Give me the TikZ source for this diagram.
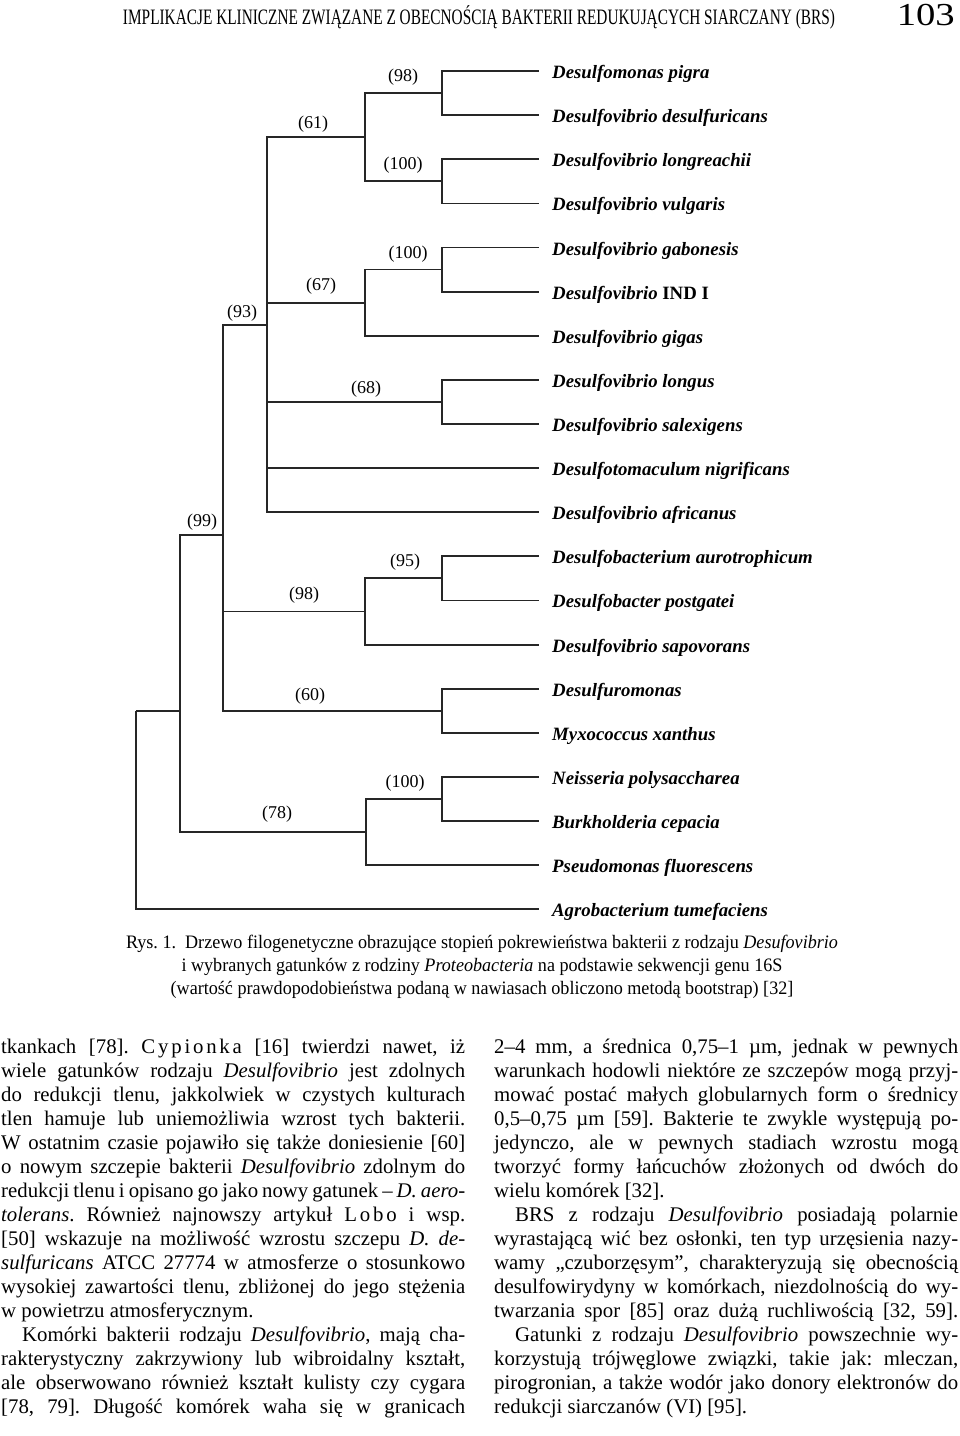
\documentclass[tikz,border=0pt]{standalone}
\usepackage{fontspec}
\setmainfont{Liberation Serif}
\usepackage{graphicx}
\frenchspacing
\newsavebox\fitbox
\newcommand\fitto[2]{\sbox\fitbox{#2}\pgfmathsetmacro\fitk{(#1)/(\the\wd\fitbox)}\global\let\lastk\fitk\scalebox{\fitk}[1]{\usebox\fitbox}}
\newlength\colw \setlength\colw{464pt}
\newcommand\jl[1]{\hbox to \colw{#1}}
\newcommand\il[1]{\hbox to \colw{\hskip21pt #1}}
\def\ls#1{\lsi#1\relax}
\def\lsi#1#2{#1\ifx#2\relax\else\kern2.8pt\expandafter\lsi\expandafter#2\fi}
\newcommand\leaffont{\fontsize{18.8}{22}\selectfont\bfseries\itshape}
\newcommand\bsfont{\fontsize{18}{22}\selectfont}
\newcommand\bodyfont{\fontsize{20.8}{24}\selectfont\spaceskip=0.25em plus 0.35em minus 0.12em\relax}
\newcommand\capfont{\fontsize{19}{23}\selectfont}
\tikzset{
  br/.style={line width=1.8pt, draw=black!85},
  leaf/.style={anchor=west, inner xsep=13pt, inner ysep=0pt, text height=15pt, text depth=0pt, font=\leaffont},
  bs/.style={inner sep=0pt, font=\bsfont},
  body/.style={anchor=base west, inner sep=0pt, font=\bodyfont},
  capl/.style={anchor=base, inner sep=0pt},
}
\begin{document}
\begin{tikzpicture}[x=1pt,y=-1pt]
\useasboundingbox (0,0) rectangle (960,1436);
% header
\node[anchor=base, inner sep=0pt] (hd) at (479,24) {\fitto{712pt}{\fontsize{22}{26}\selectfont IMPLIKACJE KLINICZNE ZWIĄZANE Z OBECNOŚCIĄ BAKTERII REDUKUJĄCYCH SIARCZANY (BRS)}};
\node[anchor=base east, inner sep=0pt] (pg) at (955,25) {\fitto{58pt}{\fontsize{32}{36}\selectfont 103}};
% leaves
\node[leaf] (L0) at (539,71.0) {Desulfomonas pigra};
\node[leaf] (L1) at (539,115.1) {Desulfovibrio desulfuricans};
\node[leaf] (L2) at (539,159.2) {Desulfovibrio longreachii};
\node[leaf] (L3) at (539,203.4) {Desulfovibrio vulgaris};
\node[leaf] (L4) at (539,247.5) {Desulfovibrio gabonesis};
\node[leaf] (L5) at (539,291.6) {Desulfovibrio \upshape IND I};
\node[leaf] (L6) at (539,335.7) {Desulfovibrio gigas};
\node[leaf] (L7) at (539,379.8) {Desulfovibrio longus};
\node[leaf] (L8) at (539,424.0) {Desulfovibrio salexigens};
\node[leaf] (L9) at (539,468.1) {Desulfotomaculum nigrificans};
\node[leaf] (L10) at (539,512.2) {Desulfovibrio africanus};
\node[leaf] (L11) at (539,556.3) {Desulfobacterium aurotrophicum};
\node[leaf] (L12) at (539,600.4) {Desulfobacter postgatei};
\node[leaf] (L13) at (539,644.6) {Desulfovibrio sapovorans};
\node[leaf] (L14) at (539,688.7) {Desulfuromonas};
\node[leaf] (L15) at (539,732.8) {Myxococcus xanthus};
\node[leaf] (L16) at (539,776.9) {Neisseria polysaccharea};
\node[leaf] (L17) at (539,821.0) {Burkholderia cepacia};
\node[leaf] (L18) at (539,865.2) {Pseudomonas fluorescens};
\node[leaf] (L19) at (539,909.3) {Agrobacterium tumefaciens};
% internal nodes
\coordinate (A) at (442,93.05);
\coordinate (B) at (442,181.3);
\coordinate (C) at (365,137.2);
\coordinate (D) at (442,269.55);
\coordinate (E) at (365,302.6);
\coordinate (F) at (442,401.9);
\coordinate (G) at (267,325);
\coordinate (H) at (442,578.35);
\coordinate (I) at (365,611.5);
\coordinate (J) at (442,710.75);
\coordinate (K) at (223,535);
\coordinate (P) at (442,798.95);
\coordinate (M) at (366,832.1);
\coordinate (N) at (180,710.7);
\coordinate (R) at (136,710.7);
% branches
\draw[br] (A) |- (L0.west);  \draw[br] (A) |- (L1.west);
\draw[br] (B) |- (L2.west);  \draw[br] (B) |- (L3.west);
\draw[br] (C) |- (A);        \draw[br] (C) |- (B);
\draw[br] (D) |- (L4.west);  \draw[br] (D) |- (L5.west);
\draw[br] (E) |- (D);        \draw[br] (E) |- (L6.west);
\draw[br] (F) |- (L7.west);  \draw[br] (F) |- (L8.west);
\draw[br] (G) |- (C);  \draw[br] (G) |- (E);  \draw[br] (G) |- (F);
\draw[br] (G) |- (L9.west);  \draw[br] (G) |- (L10.west);
\draw[br] (H) |- (L11.west); \draw[br] (H) |- (L12.west);
\draw[br] (I) |- (H);        \draw[br] (I) |- (L13.west);
\draw[br] (J) |- (L14.west); \draw[br] (J) |- (L15.west);
\draw[br] (K) |- (G);  \draw[br] (K) |- (I);  \draw[br] (K) |- (J);
\draw[br] (P) |- (L16.west); \draw[br] (P) |- (L17.west);
\draw[br] (M) |- (P);        \draw[br] (M) |- (L18.west);
\draw[br] (N) |- (K);        \draw[br] (N) |- (M);
\draw[br] (R) |- (N);        \draw[br] (R) |- (L19.west);
% bootstrap values
\node[bs] (bA) at (403,77) {(98)};
\node[bs] (bC) at (313,124) {(61)};
\node[bs] (bB) at (403,165) {(100)};
\node[bs] (bD) at (408,254) {(100)};
\node[bs] (bE) at (321,286) {(67)};
\node[bs] (bG) at (242,313) {(93)};
\node[bs] (bF) at (366,389) {(68)};
\node[bs] (bK) at (202,522) {(99)};
\node[bs] (bH) at (405,562) {(95)};
\node[bs] (bI) at (304,595) {(98)};
\node[bs] (bJ) at (310,696) {(60)};
\node[bs] (bP) at (405,783) {(100)};
\node[bs] (bM) at (277,814) {(78)};
% caption
\node[capl] (c1) at (482,948) {\fitto{712pt}{\capfont Rys. 1.\hspace{0.5em}Drzewo filogenetyczne obrazujące stopień pokrewieństwa bakterii z rodzaju \textit{Desufovibrio}}};
\node[capl] (c2) at (482,971) {\scalebox{\lastk}[1]{\capfont i wybranych gatunków z rodziny \textit{Proteobacteria} na podstawie sekwencji genu 16S}};
\node[capl] (c3) at (482,994) {\scalebox{\lastk}[1]{\capfont (wartość prawdopodobieństwa podaną w nawiasach obliczono metodą bootstrap) [32]}};
% left column
\node[body] (l0) at (1,1053) {\jl{tkankach [78]. \ls{Cypionka} [16] twierdzi nawet, iż}};
\node[body] (l1) at (1,1077) {\jl{wiele gatunków rodzaju \textit{Desulfovibrio} jest zdolnych}};
\node[body] (l2) at (1,1101) {\jl{do redukcji tlenu, jakkolwiek w czystych kulturach}};
\node[body] (l3) at (1,1125) {\jl{tlen hamuje lub uniemożliwia wzrost tych bakterii.}};
\node[body] (l4) at (1,1149) {\jl{W ostatnim czasie pojawiło się także doniesienie [60]}};
\node[body] (l5) at (1,1173) {\jl{o nowym szczepie bakterii \textit{Desulfovibrio} zdolnym do}};
\node[body] (l6) at (1,1197) {\jl{redukcji tlenu i opisano go jako nowy gatunek – \textit{D. aero-}}};
\node[body] (l7) at (1,1221) {\jl{\textit{tolerans}. Również najnowszy artykuł \ls{Lobo} i wsp.}};
\node[body] (l8) at (1,1245) {\jl{[50] wskazuje na możliwość wzrostu szczepu \textit{D. de-}}};
\node[body] (l9) at (1,1269) {\jl{\textit{sulfuricans} ATCC 27774 w atmosferze o stosunkowo}};
\node[body] (l10) at (1,1293) {\jl{wysokiej zawartości tlenu, zbliżonej do jego stężenia}};
\node[body] (l11) at (1,1317) {\hbox{w powietrzu atmosferycznym.}};
\node[body] (l12) at (1,1341) {\il{Komórki bakterii rodzaju \textit{Desulfovibrio}, mają cha-}};
\node[body] (l13) at (1,1365) {\jl{rakterystyczny zakrzywiony lub wibroidalny kształt,}};
\node[body] (l14) at (1,1389) {\jl{ale obserwowano również kształt kulisty czy cygara}};
\node[body] (l15) at (1,1413) {\jl{[78, 79]. Długość komórek waha się w granicach}};
% right column
\node[body] (r0) at (494,1053) {\jl{2–4 mm, a średnica 0,75–1 µm, jednak w pewnych}};
\node[body] (r1) at (494,1077) {\jl{warunkach hodowli niektóre ze szczepów mogą przyj-}};
\node[body] (r2) at (494,1101) {\jl{mować postać małych globularnych form o średnicy}};
\node[body] (r3) at (494,1125) {\jl{0,5–0,75 µm [59]. Bakterie te zwykle występują po-}};
\node[body] (r4) at (494,1149) {\jl{jedynczo, ale w pewnych stadiach wzrostu mogą}};
\node[body] (r5) at (494,1173) {\jl{tworzyć formy łańcuchów złożonych od dwóch do}};
\node[body] (r6) at (494,1197) {\hbox{wielu komórek [32].}};
\node[body] (r7) at (494,1221) {\il{BRS z rodzaju \textit{Desulfovibrio} posiadają polarnie}};
\node[body] (r8) at (494,1245) {\jl{wyrastającą wić bez osłonki, ten typ urzęsienia nazy-}};
\node[body] (r9) at (494,1269) {\jl{wamy „czuborzęsym”, charakteryzują się obecnością}};
\node[body] (r10) at (494,1293) {\jl{desulfowirydyny w komórkach, niezdolnością do wy-}};
\node[body] (r11) at (494,1317) {\jl{twarzania spor [85] oraz dużą ruchliwością [32, 59].}};
\node[body] (r12) at (494,1341) {\il{Gatunki z rodzaju \textit{Desulfovibrio} powszechnie wy-}};
\node[body] (r13) at (494,1365) {\jl{korzystują trójwęglowe związki, takie jak: mleczan,}};
\node[body] (r14) at (494,1389) {\jl{pirogronian, a także wodór jako donory elektronów do}};
\node[body] (r15) at (494,1413) {\hbox{redukcji siarczanów (VI) [95].}};
\end{tikzpicture}
\end{document}
